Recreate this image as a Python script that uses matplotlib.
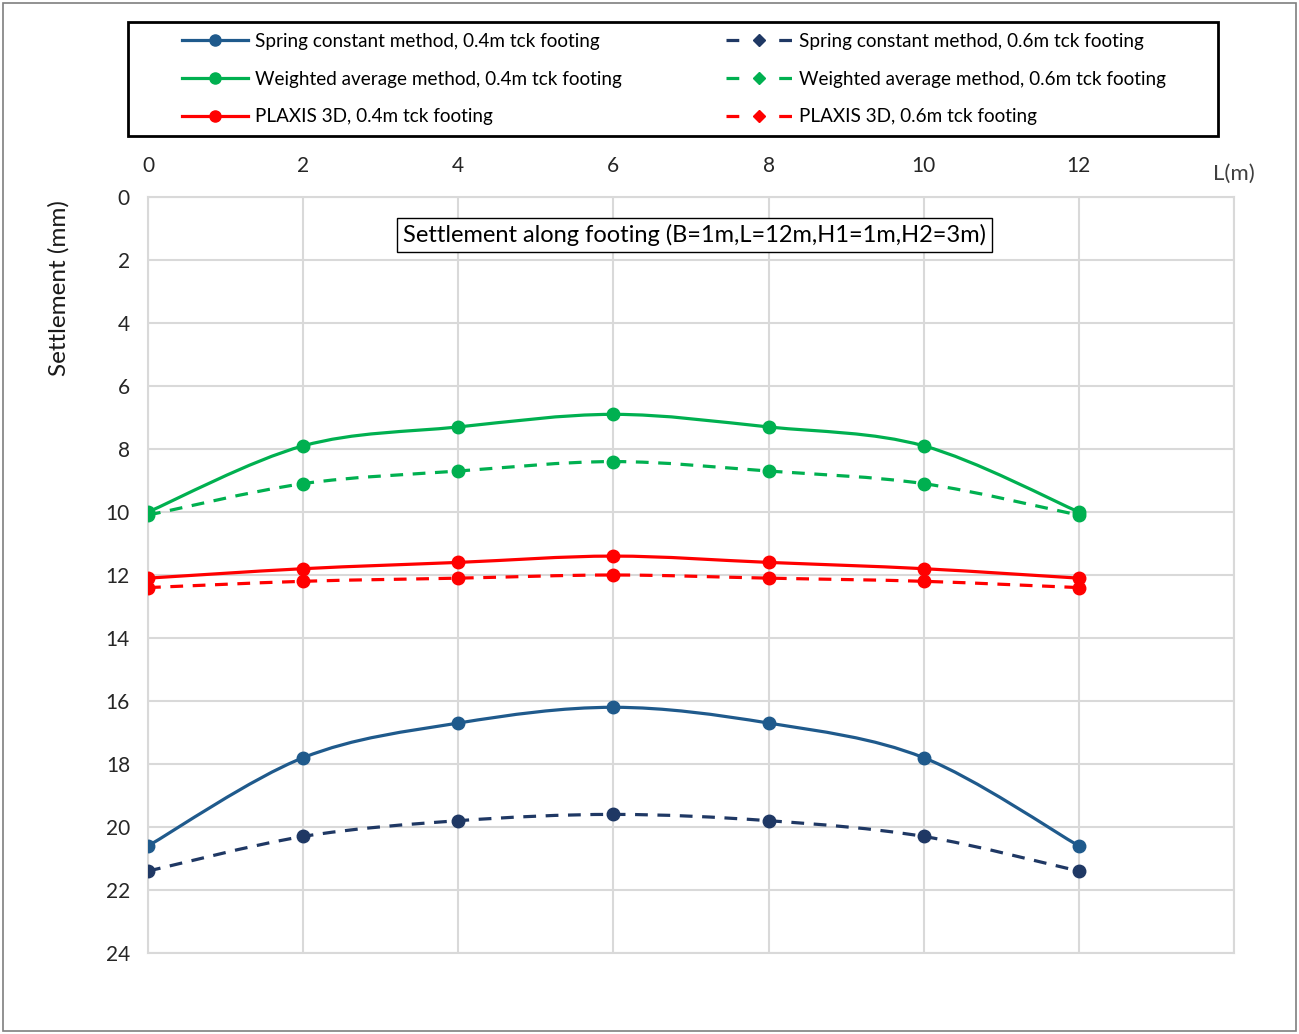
import numpy as np
import matplotlib.pyplot as plt
from matplotlib.path import Path
from matplotlib.patches import PathPatch, Rectangle
from matplotlib.lines import Line2D

plt.rcParams['font.family'] = ['Lato', 'DejaVu Sans']

# distance along footing (m)
L = [0, 2, 4, 6, 8, 10, 12]

# settlement (mm)
spring_04 = [20.6, 17.8, 16.7, 16.2, 16.7, 17.8, 20.6]
spring_06 = [21.4, 20.3, 19.8, 19.6, 19.8, 20.3, 21.4]
weighted_04 = [10.0, 7.9, 7.3, 6.9, 7.3, 7.9, 10.0]
weighted_06 = [10.1, 9.1, 8.7, 8.4, 8.7, 9.1, 10.1]
plaxis_04 = [12.1, 11.8, 11.6, 11.4, 11.6, 11.8, 12.1]
plaxis_06 = [12.4, 12.2, 12.1, 12.0, 12.1, 12.2, 12.4]

labels = ['Spring constant method, 0.4m tck footing',
          'Weighted average method, 0.4m tck footing',
          'PLAXIS 3D, 0.4m tck footing',
          'Spring constant method, 0.6m tck footing',
          'Weighted average method, 0.6m tck footing',
          'PLAXIS 3D, 0.6m tck footing']


def smooth_path(x, y):
    # Excel-like smoothed line: Catmull-Rom segments as cubic Beziers
    p = np.column_stack([x, y]).astype(float)
    n = len(p)
    verts = [p[0]]
    codes = [Path.MOVETO]
    for i in range(n - 1):
        p0 = p[i - 1] if i > 0 else p[i]
        p3 = p[i + 2] if i + 2 < n else p[i + 1]
        c1 = p[i] + (p[i + 1] - p0) / 6
        c2 = p[i + 1] - (p3 - p[i]) / 6
        verts += [c1, c2, p[i + 1]]
        codes += [Path.CURVE4] * 3
    return Path(verts, codes)


W, H = 1299, 1034
fig = plt.figure(figsize=(W / 100, H / 100), dpi=100)
ax = fig.add_axes([148 / W, 1 - 953 / H, (1234 - 148) / W, (953 - 197) / H])

series = [
    (spring_04, '#1F5A8C', '-'),
    (weighted_04, '#00B050', '-'),
    (plaxis_04, '#FF0000', '-'),
    (spring_06, '#1F3864', (0, (4, 3))),
    (weighted_06, '#00B050', (0, (4, 3))),
    (plaxis_06, '#FF0000', (0, (4, 3))),
]

handles = []
for (vals, col, ls), lab in zip(series, labels):
    ax.add_patch(PathPatch(smooth_path(L, vals), fill=False, edgecolor=col,
                           lw=2.3, linestyle=ls, zorder=3))
    ax.plot(L, vals, linestyle='none', marker='o', ms=9, color=col, zorder=4)
    mk = 'o' if ls == '-' else 'D'
    handles.append(Line2D([], [], color=col, lw=2.3,
                          linestyle='-' if ls == '-' else (0, (4, 12.5)),
                          marker=mk, ms=8 if mk == 'o' else 6.5, label=lab))

ax.set_xlim(0, 14)
ax.set_ylim(24, 0)
ax.set_xticks([0, 2, 4, 6, 8, 10, 12, 14])
ax.set_xticklabels(['0', '2', '4', '6', '8', '10', '12', ''])
ax.set_yticks(range(0, 25, 2))
ax.xaxis.tick_top()
ax.tick_params(axis='x', length=0, pad=15, labelsize=15, colors='#262626')
ax.tick_params(axis='y', length=0, pad=13, labelsize=15, colors='#262626')
ax.grid(True, color='#D9D9D9', lw=1.5)
ax.set_axisbelow(True)
for s in ax.spines.values():
    s.set_color('#D9D9D9')
    s.set_linewidth(1.5)

ax.text(1.0, 1.03, 'L(m)', transform=ax.transAxes, ha='center', va='center',
        fontsize=16, color='#404040')
ax.set_ylabel('Settlement (mm)', fontsize=17.5, color='#1a1a1a')
ax.yaxis.set_label_coords(-0.072, 0.88)

ax.text(7.04, 1.2, 'Settlement along footing (B=1m,L=12m,H1=1m,H2=3m)',
        ha='center', va='center', fontsize=17, zorder=5,
        bbox=dict(boxstyle='square,pad=0.25', fc='white', ec='black', lw=1))

# legend content placed inside a separately drawn frame
leg = fig.legend(handles=handles, ncol=2, loc='center',
                 bbox_to_anchor=(182 / W, 1 - 136 / H, (1166 - 182) / W, 114 / H),
                 mode='expand', fontsize=13.6, frameon=False,
                 handlelength=3.5, handletextpad=0.37, labelspacing=1.1,
                 borderpad=0, borderaxespad=0, columnspacing=2)
fig.patches.append(Rectangle((128 / W, 1 - 136 / H), (1218 - 128) / W, 114 / H,
                             transform=fig.transFigure, fill=False,
                             edgecolor='black', lw=2))

fig.patches.append(Rectangle((3 / W, 3 / H), 1293 / W, 1028 / H,
                             transform=fig.transFigure, fill=False,
                             edgecolor='#7F7F7F', lw=1.2))

plt.savefig('out.png', dpi=100)
